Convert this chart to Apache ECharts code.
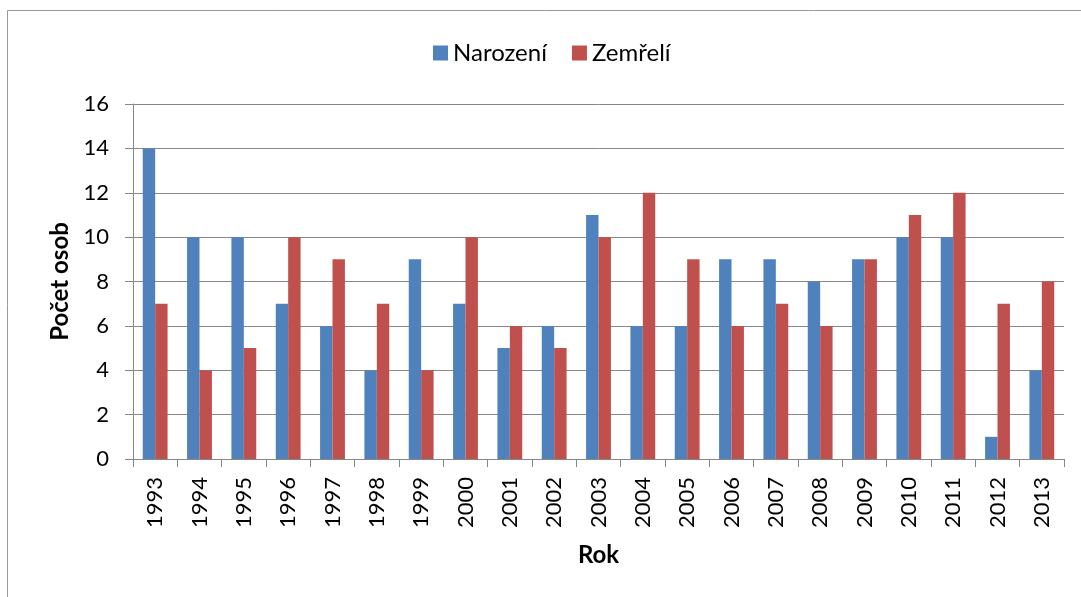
<!DOCTYPE html>
<html>
<head>
<meta charset="utf-8">
<script src="https://cdn.jsdelivr.net/npm/echarts@6/dist/echarts.min.js"></script>
<style>
  html, body { margin: 0; padding: 0; background: #fff; }
  #chart { width: 1081px; height: 597px; }
</style>
</head>
<body>
<div id="chart"></div>
<script>
const years = ['1993', '1994', '1995', '1996', '1997', '1998', '1999', '2000', '2001', '2002', '2003',
  '2004', '2005', '2006', '2007', '2008', '2009', '2010', '2011', '2012', '2013']
const narozeni = [14, 10, 10, 7, 6, 4, 9, 7, 5, 6, 11, 6, 6, 9, 9, 8, 9, 10, 10, 1, 4]
const zemreli = [7, 4, 5, 10, 9, 7, 4, 10, 6, 5, 10, 12, 9, 6, 7, 6, 9, 11, 12, 7, 8]

const font = 'Lato, "Open Sans", sans-serif'
const chart = echarts.init(document.getElementById('chart'))

chart.setOption({
  animation: false,
  textStyle: { fontFamily: font, color: '#000' },
  graphic: [{
    type: 'rect',
    shape: { x: 7.5, y: 10.5, width: 1100, height: 700 },
    style: { fill: 'none', stroke: '#9a9a9a', lineWidth: 1 },
    silent: true
  }],
  legend: {
    top: 36,
    left: 428,
    itemWidth: 15,
    itemHeight: 15,
    itemGap: 25,
    itemTextGap: 7,
    icon: 'rect',
    textStyle: { fontSize: 24, fontFamily: font, color: '#000' },
    data: ['Narození', 'Zemřelí']
  },
  grid: { left: 133, right: 17, top: 104, bottom: 138 },
  xAxis: {
    type: 'category',
    data: years,
    name: 'Rok',
    nameLocation: 'middle',
    nameGap: 84,
    nameTextStyle: { fontSize: 24, fontWeight: 'bold', color: '#000' },
    axisLine: { lineStyle: { color: '#888', width: 1 } },
    axisTick: { show: true, length: 8, inside: false, lineStyle: { color: '#888' } },
    axisLabel: { rotate: 90, fontSize: 22, color: '#000', margin: 18 }
  },
  yAxis: {
    type: 'value',
    min: 0,
    max: 16,
    interval: 2,
    name: 'Počet osob',
    nameLocation: 'middle',
    nameGap: 59,
    nameTextStyle: { fontSize: 24, fontWeight: 'bold', color: '#000' },
    axisLine: { show: true, lineStyle: { color: '#888', width: 1 } },
    axisTick: { show: true, length: 8, lineStyle: { color: '#888' } },
    axisLabel: { fontSize: 22, color: '#000', margin: 24 },
    splitLine: { lineStyle: { color: '#888', width: 1 } }
  },
  series: [
    {
      name: 'Narození',
      type: 'bar',
      data: narozeni,
      itemStyle: { color: '#4F81BD' },
      barGap: '0%',
      barCategoryGap: '44%'
    },
    {
      name: 'Zemřelí',
      type: 'bar',
      data: zemreli,
      itemStyle: { color: '#C0504D' },
      barGap: '0%',
      barCategoryGap: '44%'
    }
  ]
})
</script>
</body>
</html>
